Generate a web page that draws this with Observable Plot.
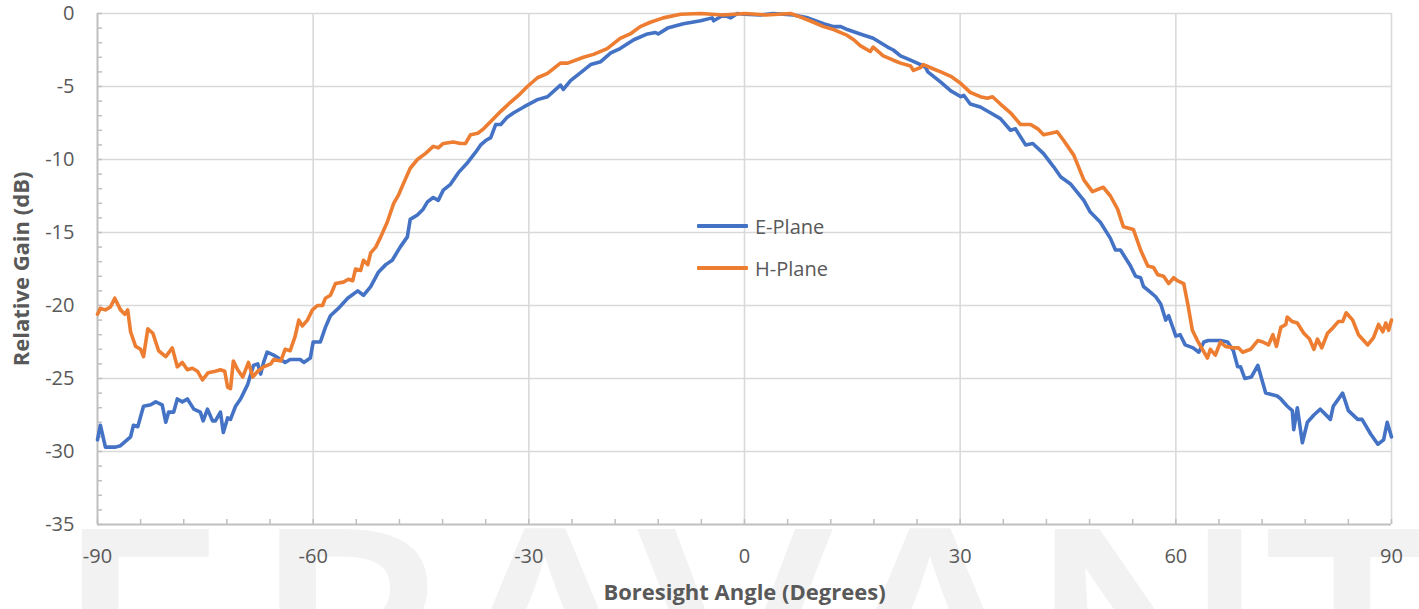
<!DOCTYPE html>
<html>
<head>
<meta charset="utf-8">
<script src="https://cdn.jsdelivr.net/npm/d3@7"></script>
<script src="https://cdn.jsdelivr.net/npm/@observablehq/plot@0.6"></script>
<style>
  html, body { margin: 0; padding: 0; background: #ffffff; }
  #wrap { position: relative; width: 1419px; height: 609px; overflow: hidden; font-family: "Open Sans", sans-serif; }
  #wm { position: absolute; left: 0; top: 0; width: 1419px; height: 609px; z-index: 0; }
  #wm span { position: absolute; top: 481px; font-size: 280px; line-height: 1; color: #f2f2f2; transform: translateX(-50%) scaleX(1.12); font-family: "Open Sans", sans-serif; font-weight: 600; }
  #chart { position: absolute; left: 0; top: 0; z-index: 1; }
  #legend { position: absolute; left: 0; top: 0; z-index: 2; }
  .lg { position: absolute; height: 28px; display: flex; align-items: center; font-size: 20px; color: #595959; font-family: "Open Sans", sans-serif; white-space: nowrap; }
  .lg i { display: inline-block; width: 51px; height: 4px; margin-right: 7px; border-radius: 1px; }
</style>
</head>
<body>
<div id="wrap">
  <div id="wm"></div>
  <div id="chart"></div>
  <div id="legend"></div>
</div>
<script>
// ---- data (angle in degrees, relative gain in dB) ----
const ePlane = [
  [-90,-29.2],[-89.6,-28.2],[-88.9,-29.7],[-87.5,-29.7],[-86.8,-29.6],[-85.4,-29],[-85,-28.2],[-84.4,-28.3],
  [-83.6,-26.9],[-82.6,-26.8],[-81.9,-26.6],[-81,-26.8],[-80.5,-28],[-80.1,-27.3],[-79.4,-27.3],[-78.9,-26.4],
  [-78.2,-26.6],[-77.5,-26.4],[-76.6,-27.1],[-75.7,-27.3],[-75.3,-27.9],[-74.7,-27.1],[-74,-27.9],[-73.6,-27.9],
  [-72.9,-27.3],[-72.5,-28.7],[-71.9,-27.7],[-71.5,-27.8],[-70.8,-26.9],[-70.1,-26.4],[-69.1,-25.4],[-68.3,-24.1],
  [-67.7,-24],[-67.3,-24.7],[-66.9,-23.9],[-66.4,-23.2],[-65.5,-23.4],[-64.5,-23.7],[-63.9,-23.9],[-63.2,-23.7],
  [-61.8,-23.7],[-61.3,-23.9],[-60.4,-23.6],[-60,-22.5],[-59,-22.5],[-58.3,-21.5],[-57.6,-20.7],[-56.5,-20.2],
  [-55.2,-19.5],[-53.8,-19],[-53,-19.3],[-52,-18.7],[-50.9,-17.7],[-49.9,-17.2],[-49,-16.9],[-47.9,-16],
  [-46.9,-15.3],[-46.5,-14.1],[-45.5,-13.8],[-44.7,-13.4],[-44.1,-12.9],[-43.3,-12.6],[-42.6,-12.8],[-41.9,-12.1],
  [-40.9,-11.7],[-39.8,-10.9],[-38.5,-10.2],[-37.4,-9.5],[-36.7,-9],[-36,-8.7],[-35.3,-8.5],[-34.6,-7.6],
  [-33.9,-7.6],[-33,-7.1],[-32.1,-6.8],[-30.7,-6.4],[-28.8,-5.9],[-27.4,-5.7],[-25.6,-4.9],[-25.2,-5.2],
  [-24.2,-4.6],[-22.4,-3.9],[-21.4,-3.5],[-20,-3.3],[-18.6,-2.7],[-17.3,-2.4],[-15.4,-1.8],[-13.5,-1.4],
  [-12.4,-1.3],[-12,-1.4],[-10.7,-1],[-8.5,-0.7],[-6.1,-0.5],[-4.5,-0.3],[-4.3,-0.5],[-2.9,-0.1],
  [-1.9,-0.3],[-1,0],[0,-0.05],[2.2,-0.1],[4,0],[6.8,-0.1],[8.8,-0.3],[11,-0.7],
  [12.4,-0.9],[13.4,-0.9],[14.3,-1.1],[16.1,-1.4],[17.9,-1.7],[19.9,-2.3],[20.7,-2.5],[21.7,-2.9],
  [23.1,-3.2],[24.5,-3.5],[25.2,-3.7],[25.5,-4],[27.3,-4.7],[28.7,-5.3],[30.1,-5.7],[30.5,-5.6],
  [31.4,-6.2],[32.8,-6.4],[34.2,-6.8],[35.6,-7.2],[37,-8],[37.7,-7.9],[39.1,-9],[40.1,-8.9],
  [41.6,-9.6],[43,-10.5],[44,-11.2],[45.4,-11.7],[47.2,-12.8],[48.1,-13.6],[49.5,-14.3],[50.9,-15.4],
  [51.6,-16.2],[52.3,-16.2],[53.7,-17.3],[54.4,-18],[55.1,-18.1],[55.5,-18.7],[56.5,-19.1],[57.2,-19.4],
  [57.9,-19.9],[58.6,-21],[59,-20.7],[60,-22.1],[60.6,-22],[61.3,-22.7],[62.4,-22.9],[63.2,-23.2],
  [63.9,-22.5],[64.5,-22.4],[66.2,-22.4],[67.2,-22.5],[68,-23.1],[68.6,-24.2],[69,-24.2],[69.6,-25],
  [70.5,-24.9],[71.4,-24.1],[72.5,-26],[74.1,-26.2],[74.6,-26.4],[75.5,-26.9],[76.2,-27.2],[76.4,-28.5],
  [76.9,-27],[77.6,-29.4],[78.3,-28],[79.2,-27.5],[80.1,-27.1],[81.5,-27.8],[81.9,-26.9],[83.2,-26],
  [84,-27.2],[85.3,-27.8],[85.9,-27.8],[87.1,-28.8],[88.1,-29.5],[88.9,-29.2],[89.4,-28],[90,-29]
];

const hPlane = [
  [-90,-20.6],[-89.6,-20.2],[-88.9,-20.3],[-88.2,-20.1],[-87.6,-19.5],[-86.8,-20.3],[-86.2,-20.6],[-85.8,-20.3],
  [-85.4,-21.8],[-84.7,-22.8],[-84,-23],[-83.6,-23.5],[-83,-21.6],[-82.3,-21.9],[-81.5,-23.1],[-80.5,-23.5],
  [-79.6,-22.9],[-78.9,-24.2],[-78.2,-23.9],[-77.5,-24.4],[-76.8,-24.3],[-76.1,-24.5],[-75.4,-25.1],[-74.6,-24.6],
  [-73.6,-24.5],[-72.9,-24.4],[-72.3,-24.5],[-71.9,-25.6],[-71.5,-25.7],[-71.1,-23.8],[-70.5,-24.4],[-69.8,-24.9],
  [-69,-23.9],[-68.4,-24.9],[-67.7,-24.5],[-66.9,-24.2],[-65.9,-24],[-65.5,-23.7],[-64.5,-23.8],[-63.9,-23],
  [-63.2,-23.1],[-62.5,-22.1],[-62,-21],[-61.5,-21.4],[-60.8,-21],[-60.1,-20.3],[-59.4,-20],[-58.7,-20],
  [-58.3,-19.5],[-57.6,-19.3],[-56.9,-18.5],[-55.8,-18.4],[-55.1,-18.2],[-54.5,-18.3],[-54.1,-17.5],[-53.4,-17.6],
  [-53,-16.9],[-52.4,-17.2],[-52,-16.4],[-51.3,-16],[-50.6,-15.3],[-49.7,-14.3],[-48.8,-13],[-48.1,-12.4],
  [-47.4,-11.6],[-46.5,-10.6],[-45.5,-10],[-44.4,-9.6],[-43.3,-9.1],[-42.6,-9.2],[-41.9,-8.9],[-40.5,-8.8],
  [-39.5,-8.9],[-38.8,-8.9],[-38.1,-8.3],[-37.1,-8.2],[-36.3,-7.9],[-35.3,-7.4],[-33.9,-6.7],[-32.6,-6.1],
  [-31.2,-5.5],[-30.2,-5],[-28.8,-4.4],[-27.4,-4.1],[-25.6,-3.4],[-24.6,-3.4],[-22.4,-3],[-21,-2.8],
  [-19.1,-2.4],[-17.3,-1.7],[-15.9,-1.4],[-14.5,-0.9],[-13.1,-0.6],[-11.3,-0.3],[-8.9,-0.05],[-6.1,0],
  [-3,-0.1],[0,0],[3,-0.1],[6.4,0],[7.8,-0.25],[9.6,-0.6],[11,-0.9],[12.4,-1.1],
  [14.3,-1.5],[15.2,-1.8],[16.1,-2.2],[17.5,-2.6],[17.9,-2.3],[19.3,-2.9],[20.7,-3.2],[21.7,-3.4],
  [23.1,-3.6],[23.5,-3.9],[24.5,-3.7],[24.9,-3.5],[26.3,-3.8],[27.3,-4],[28.7,-4.3],[30.1,-4.8],
  [31.4,-5.4],[32.8,-5.7],[33.8,-5.8],[34.5,-5.7],[35.6,-6.2],[37,-6.8],[38.4,-7.6],[39.8,-7.6],
  [40.8,-7.9],[41.6,-8.3],[42.6,-8.2],[43.5,-8.1],[44.4,-8.7],[45.8,-9.7],[47.2,-11.4],[48.4,-12.2],
  [49.9,-11.9],[50.9,-12.5],[51.9,-13.4],[52.7,-14.6],[54.1,-14.8],[55.1,-16.2],[56.1,-17.3],[56.9,-17.4],
  [57.5,-17.9],[58.3,-18],[59,-18.5],[59.7,-18.1],[60.2,-18.3],[61.1,-18.5],[61.7,-20],[62.3,-21.7],
  [63,-22.4],[63.7,-23],[64.4,-23.6],[64.8,-23],[65.5,-23.4],[66.2,-22.5],[66.9,-22.8],[67.9,-22.9],
  [68.7,-22.9],[69.3,-23.2],[70.4,-23],[71.4,-22.4],[72.1,-22.5],[72.9,-22.7],[73.5,-22],[74,-22.8],
  [74.6,-21.5],[75.3,-21.3],[75.5,-20.8],[76.2,-21.1],[76.9,-21.2],[77.8,-21.9],[78.6,-22.3],[79.2,-23],
  [79.7,-22.3],[80.3,-22.9],[81.1,-21.9],[81.9,-21.5],[82.6,-21.1],[83.2,-21.1],[83.7,-20.5],[84.6,-21],
  [85.4,-22],[86.7,-22.7],[87.5,-22.2],[88.2,-21.3],[88.8,-21.8],[89.2,-21.2],[89.6,-21.7],[90,-21]
];

const seriesNames = ["E-Plane", "H-Plane"];
const seriesColors = ["#4472C4", "#ED7D31"];
const xTicks = [-90, -60, -30, 0, 30, 60, 90];
const yTicks = [0, -5, -10, -15, -20, -25, -30, -35];
const xMinorTicks = d3.range(-90, 91, 6);
const yMinorTicks = d3.range(-35, 1, 1);
const xTitle = "Boresight Angle (Degrees)";
const yTitle = "Relative Gain (dB)";
const watermark = "ERAVANT";

// ---- table for the library ----
const rows = [
  ...ePlane.map(([angle, gain]) => ({series: seriesNames[0], angle, gain})),
  ...hPlane.map(([angle, gain]) => ({series: seriesNames[1], angle, gain}))
];

const axisGray = "#bfbfbf";
const gridGray = "#d9d9d9";
const textGray = "#595959";
const plain = d => String(d); // hyphen-minus, as in the reference

const chart = Plot.plot({
  width: 1419,
  height: 609,
  marginLeft: 97,
  marginRight: 28,
  marginTop: 13,
  marginBottom: 85,
  style: {background: "transparent", fontFamily: "'Open Sans', sans-serif", fontSize: "20px", color: textGray, overflow: "visible"},
  x: {domain: [-90, 90]},
  y: {domain: [-35, 0]},
  color: {domain: seriesNames, range: seriesColors},
  marks: [
    Plot.gridX(xTicks.filter(d => d > -90), {stroke: gridGray, strokeOpacity: 1, strokeWidth: 1.6}),
    Plot.gridY(yTicks.filter(d => d > -35), {stroke: gridGray, strokeOpacity: 1, strokeWidth: 1.6}),
    Plot.axisX({ticks: xMinorTicks, tickSize: -5, stroke: axisGray, strokeWidth: 1.5, tickFormat: () => "", label: null}),
    Plot.axisY({ticks: yMinorTicks, tickSize: -5, stroke: axisGray, strokeWidth: 1.5, tickFormat: () => "", label: null}),
    Plot.axisX({ticks: xTicks, tickSize: 0, tickPadding: 24, fontSize: 20, fill: textGray, tickFormat: plain, label: null}),
    Plot.axisY({ticks: yTicks, tickSize: 0, tickPadding: 23, fontSize: 20, fill: textGray, tickFormat: plain, label: null}),
    Plot.ruleY([-35], {stroke: axisGray, strokeWidth: 2}),
    Plot.ruleX([-90], {stroke: axisGray, strokeWidth: 2}),
    Plot.line(rows, {x: "angle", y: "gain", z: "series", stroke: "series", strokeWidth: 3.6, strokeLinejoin: "round", strokeLinecap: "round"}),
    Plot.text([xTitle], {text: d => d, frameAnchor: "bottom", textAnchor: "middle", lineAnchor: "middle", dy: 68, fontSize: 22, fontWeight: "bold", fill: textGray}),
    Plot.text([yTitle], {text: d => d, frameAnchor: "left", textAnchor: "middle", lineAnchor: "middle", dx: -76, rotate: -90, fontSize: 22, fontWeight: "bold", fill: textGray})
  ]
});
document.getElementById("chart").appendChild(chart);

// ---- legend (inside plot area) ----
const legend = document.getElementById("legend");
const legendPos = [[697, 212], [697, 254]];
seriesNames.forEach((name, i) => {
  const row = document.createElement("div");
  row.className = "lg";
  row.style.left = legendPos[i][0] + "px";
  row.style.top = legendPos[i][1] + "px";
  const sw = document.createElement("i");
  sw.style.background = seriesColors[i];
  row.appendChild(sw);
  row.appendChild(document.createTextNode(name));
  legend.appendChild(row);
});

// ---- faint background watermark ----
const wm = document.getElementById("wm");
const wmCenters = [140, 350, 545, 735, 930, 1148, 1352];
watermark.split("").forEach((ch, i) => {
  const s = document.createElement("span");
  s.textContent = ch;
  s.style.left = wmCenters[i] + "px";
  wm.appendChild(s);
});
</script>
</body>
</html>
